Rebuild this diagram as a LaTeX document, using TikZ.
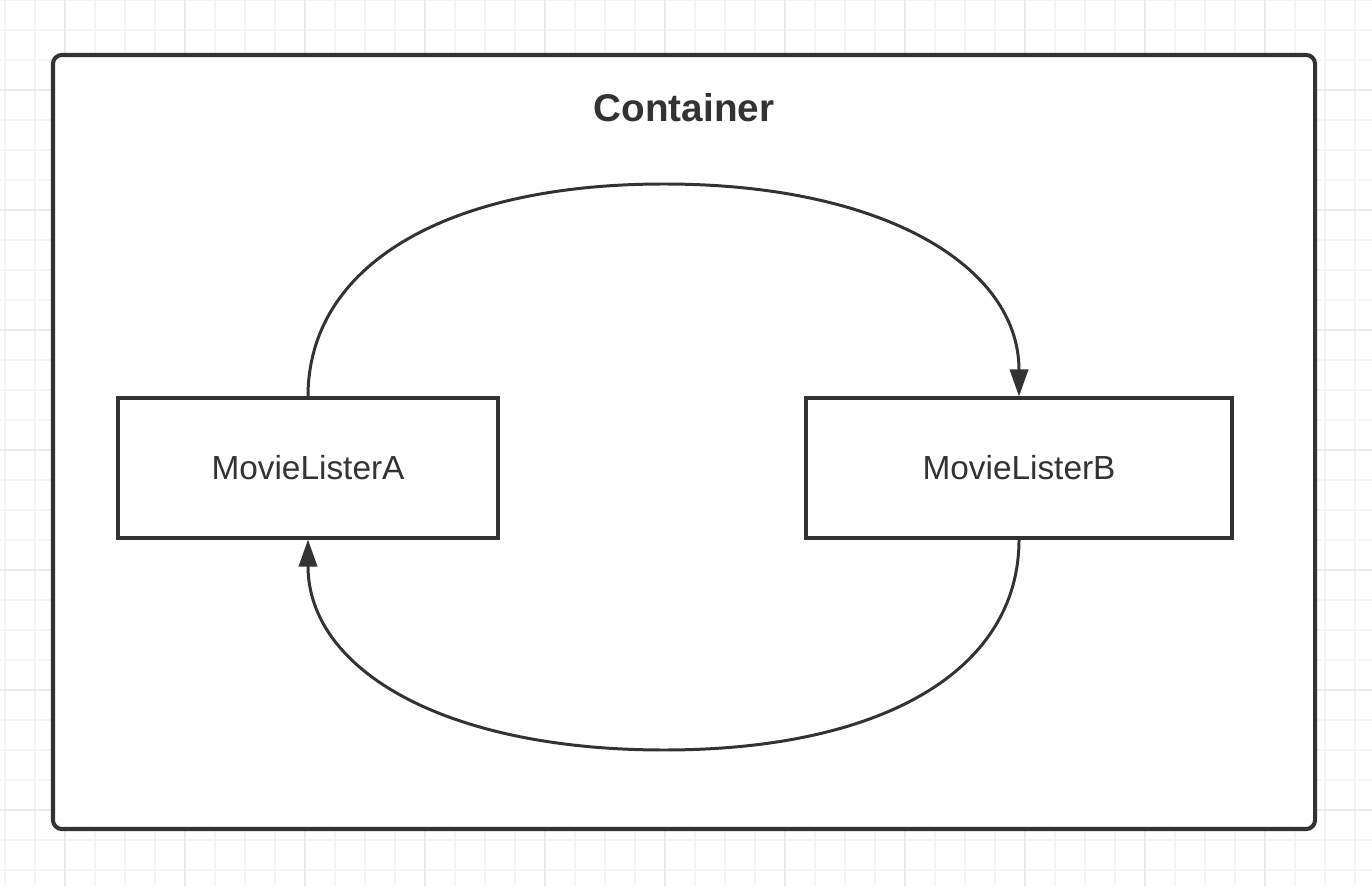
\documentclass[tikz,border=0pt]{standalone}
\usepackage{fontspec}
\setmainfont{Liberation Sans}
\usetikzlibrary{arrows.meta}
\usetikzlibrary{positioning}

\definecolor{ink}{HTML}{333333}
\definecolor{gridthin}{HTML}{F4F4F4}
\definecolor{gridthick}{HTML}{EAEAEA}

\tikzset{
    frame/.style={draw=ink, line width=1.15pt, rounded corners=2.5pt, fill=white},
    lister/.style={draw=ink, line width=0.9pt, fill=white, text=ink,
        font=\fontsize{9.5}{11}\selectfont},
    flow/.style={draw=ink, line width=0.85pt, -{Triangle[length=7.7pt,width=5.2pt]}}
}

\begin{document}
\begin{tikzpicture}
    \useasboundingbox (0,0) rectangle (13.72,8.86);
    \fill[white] (0,0) rectangle (13.72,8.86);
    \foreach \i in {0,...,45} {
        \draw[gridthin, line width=0.55pt] ({0.05+0.3*\i},0) -- ({0.05+0.3*\i},8.86);
    }
    \foreach \j in {0,...,29} {
        \draw[gridthin, line width=0.55pt] (0,{8.86-0.3*\j}) -- (13.72,{8.86-0.3*\j});
    }
    \foreach \i in {0,...,10} {
        \draw[gridthick, line width=0.8pt] ({0.65+1.2*\i},0) -- ({0.65+1.2*\i},8.86);
    }
    \foreach \j in {0,...,6} {
        \draw[gridthick, line width=0.8pt] (0,{7.96-1.2*\j}) -- (13.72,{7.96-1.2*\j});
    }

    \node[frame, minimum width=12.62cm, minimum height=7.74cm] (container) at (6.84,4.44) {};
    \node[text=ink, font=\fontsize{11}{13}\selectfont\bfseries] (title) at ([yshift=-0.55cm]container.north) {Container};

    \node[lister, minimum width=3.8cm, minimum height=1.4cm] (listerA) at (3.08,4.18) {MovieListerA};
    \node[lister, minimum width=4.26cm, minimum height=1.4cm] (listerB) at (10.19,4.18) {MovieListerB};

    \coordinate (topbend) at (6.64,7.02);
    \coordinate (botbend) at (6.64,1.36);

    \draw[flow] (listerA.north) .. controls +(0,1.3) and +(-2.2,0) .. (topbend)
        .. controls +(2.2,0) and +(0,1.3) .. (listerB.north);
    \draw[flow] (listerB.south) .. controls +(0,-1.3) and +(2.2,0) .. (botbend)
        .. controls +(-2.2,0) and +(0,-1.3) .. (listerA.south);
\end{tikzpicture}
\end{document}
